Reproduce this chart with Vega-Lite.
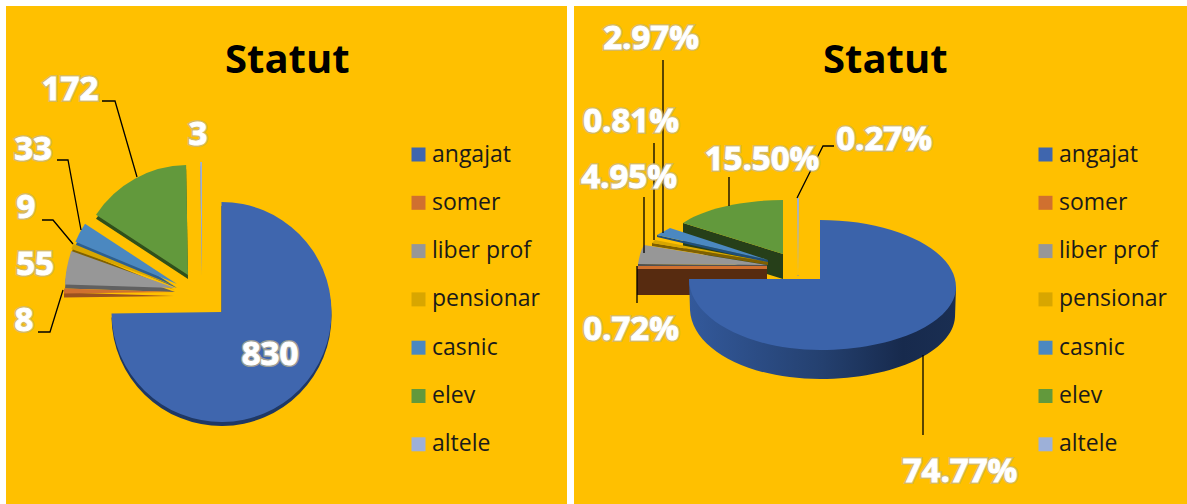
{"$schema":"https://vega.github.io/schema/vega-lite/v6.json","background":"white","padding":{"left":6,"top":6,"right":0,"bottom":0},"spacing":7,"resolve":{"scale":{"color":"independent","shape":"independent","x":"independent","y":"independent"}},"datasets":{"pieA":[{"i":1,"statut":"angajat","n":830,"cx":221.5,"cy":312,"lx":270,"ly":355,"eticheta":"830"},{"i":2,"statut":"somer","n":8,"cx":174,"cy":292,"lx":24,"ly":321,"eticheta":"8"},{"i":3,"statut":"liber prof","n":55,"cx":175,"cy":288,"lx":35,"ly":265,"eticheta":"55"},{"i":4,"statut":"pensionar","n":9,"cx":175,"cy":286,"lx":26,"ly":208,"eticheta":"9"},{"i":5,"statut":"casnic","n":33,"cx":177,"cy":284,"lx":33,"ly":150,"eticheta":"33"},{"i":6,"statut":"elev","n":172,"cx":188,"cy":275,"lx":70,"ly":90,"eticheta":"172"},{"i":7,"statut":"altele","n":3,"cx":202,"cy":272,"lx":198,"ly":135,"eticheta":"3"}],"pieB":[{"i":6,"statut":"elev","n":172,"cx":783,"cy":254,"lx":762,"ly":160,"eticheta":"15.50%"},{"i":7,"statut":"altele","n":3,"cx":798,"cy":275,"lx":884,"ly":140,"eticheta":"0.27%"},{"i":5,"statut":"casnic","n":33,"cx":768,"cy":260,"lx":651,"ly":39,"eticheta":"2.97%"},{"i":4,"statut":"pensionar","n":9,"cx":768,"cy":262,"lx":631,"ly":122,"eticheta":"0.81%"},{"i":3,"statut":"liber prof","n":55,"cx":767,"cy":265,"lx":629,"ly":178,"eticheta":"4.95%"},{"i":2,"statut":"somer","n":8,"cx":767,"cy":267,"lx":631,"ly":330,"eticheta":"0.72%"},{"i":1,"statut":"angajat","n":830,"cx":820,"cy":279,"lx":960,"ly":472,"eticheta":"74.77%"}],"leadA":[{"id":"172","o":1,"x":102,"y":101},{"id":"172","o":2,"x":115,"y":101},{"id":"172","o":3,"x":137,"y":177},{"id":"33","o":1,"x":57,"y":160},{"id":"33","o":2,"x":68,"y":160},{"id":"33","o":3,"x":81,"y":230},{"id":"9","o":1,"x":42,"y":220},{"id":"9","o":2,"x":53,"y":220},{"id":"9","o":3,"x":73,"y":244},{"id":"8","o":1,"x":38,"y":332},{"id":"8","o":2,"x":50,"y":332},{"id":"8","o":3,"x":63,"y":290}],"leadB":[{"id":"a","o":1,"x":663,"y":60},{"id":"a","o":2,"x":663,"y":233},{"id":"b","o":1,"x":654,"y":143},{"id":"b","o":2,"x":654,"y":240},{"id":"c","o":1,"x":644,"y":197},{"id":"c","o":2,"x":644,"y":253},{"id":"d","o":1,"x":729,"y":177},{"id":"d","o":2,"x":729,"y":206},{"id":"e","o":1,"x":834,"y":146},{"id":"e","o":2,"x":823,"y":146},{"id":"e","o":3,"x":797,"y":198},{"id":"f","o":1,"x":637,"y":266},{"id":"f","o":2,"x":637,"y":303},{"id":"g","o":1,"x":923,"y":355},{"id":"g","o":2,"x":923,"y":435}]},"hconcat":[{"width":561,"height":498,"view":{"fill":"#FFC000","stroke":null},"title":{"text":"Statut","frame":"group","anchor":"start","orient":"top","offset":-75,"dx":219,"font":"Open Sans","fontSize":40,"fontWeight":"bold","color":"#000000"},"resolve":{"scale":{"color":"independent"}},"layer":[{"data":{"name":"pieA"},"mark":{"type":"arc","outerRadius":110,"yOffset":4},"encoding":{"theta":{"field":"n","type":"quantitative","stack":true},"order":{"field":"i","type":"quantitative"},"x":{"field":"cx","type":"quantitative","scale":{"domain":[6,567],"nice":false,"zero":false},"axis":null},"y":{"field":"cy","type":"quantitative","scale":{"domain":[504,6],"nice":false,"zero":false},"axis":null},"color":{"field":"statut","type":"nominal","legend":null,"scale":{"domain":["angajat","somer","liber prof","pensionar","casnic","elev","altele"],"range":["#1F3864","#9A5220","#606060","#7F6000","#2E5F8E","#2F4F1B","#7C8CB0"]}}}},{"data":{"name":"pieA"},"mark":{"type":"arc","outerRadius":110},"encoding":{"theta":{"field":"n","type":"quantitative","stack":true},"order":{"field":"i","type":"quantitative"},"x":{"field":"cx","type":"quantitative"},"y":{"field":"cy","type":"quantitative"},"color":{"field":"statut","type":"nominal","scale":{"domain":["angajat","somer","liber prof","pensionar","casnic","elev","altele"],"range":["#3F66AE","#D0702F","#979797","#D8A600","#4B88C0","#62993C","#9DB0D8"]},"legend":{"orient":"none","legendX":401,"legendY":137,"title":null,"symbolType":"square","symbolSize":196,"symbolStrokeWidth":0,"symbolOpacity":1,"labelFont":"Open Sans","labelFontSize":23,"labelColor":"#1A1A1A","labelOffset":2,"rowPadding":24.3,"padding":0}}}},{"data":{"name":"leadA"},"mark":{"type":"line","color":"#000000","strokeWidth":1.3},"encoding":{"x":{"field":"x","type":"quantitative"},"y":{"field":"y","type":"quantitative"},"detail":{"field":"id"},"order":{"field":"o","type":"quantitative"}}},{"data":{"name":"pieA"},"mark":{"type":"text","font":"Open Sans","fontSize":33,"fontWeight":"bold","stroke":"#C4B68C","strokeWidth":4,"strokeOpacity":0.7,"baseline":"middle"},"encoding":{"x":{"field":"lx","type":"quantitative"},"y":{"field":"ly","type":"quantitative"},"text":{"field":"eticheta"}}},{"data":{"name":"pieA"},"mark":{"type":"text","font":"Open Sans","fontSize":33,"fontWeight":"bold","color":"#FFFFFF","stroke":"#FFFFFF","strokeWidth":1,"baseline":"middle"},"encoding":{"x":{"field":"lx","type":"quantitative"},"y":{"field":"ly","type":"quantitative"},"text":{"field":"eticheta"}}}]},{"width":613,"height":498,"view":{"fill":"#FFC000","stroke":null},"title":{"text":"Statut","frame":"group","anchor":"start","orient":"top","offset":-75,"dx":249,"font":"Open Sans","fontSize":40,"fontWeight":"bold","color":"#000000"},"resolve":{"scale":{"color":"independent","shape":"independent"}},"layer":[{"data":{"name":"pieB"},"mark":{"type":"square","size":0,"opacity":1},"encoding":{"x":{"field":"cx","type":"quantitative","scale":{"domain":[574,1187],"nice":false,"zero":false},"axis":null},"y":{"field":"cy","type":"quantitative","scale":{"domain":[504,6],"nice":false,"zero":false},"axis":null},"color":{"field":"statut","type":"nominal","scale":{"domain":["angajat","somer","liber prof","pensionar","casnic","elev","altele"],"range":["#3F66AE","#D0702F","#979797","#D8A600","#4B88C0","#62993C","#9DB0D8"]},"legend":{"orient":"none","legendX":460,"legendY":137,"title":null,"symbolType":"square","symbolSize":196,"symbolStrokeWidth":0,"symbolOpacity":1,"labelFont":"Open Sans","labelFontSize":23,"labelColor":"#1A1A1A","labelOffset":2,"rowPadding":24.3,"padding":0}}}},{"data":{"name":"pieB"},"transform":[{"filter":"datum.statut !== 'angajat'"}],"mark":{"type":"point","filled":true,"size":4,"opacity":1},"encoding":{"x":{"field":"cx","type":"quantitative"},"y":{"field":"cy","type":"quantitative"},"shape":{"field":"statut","type":"nominal","legend":null,"scale":{"domain":["somer","liber prof","pensionar","casnic","elev","altele"],"range":["M-130,1L-130,28L0,28L0,1Z","M-129,-1L-129,3L0,3L0,0Z","M-116,-19L-116,-16L0,3L0,0Z","M-111,-25L-111,-23L0,3L0,0Z","M-100,-31L-100,-6L0,25L0,0Z","M-1,0L1,0L0,1Z"]}},"color":{"field":"statut","type":"nominal","legend":null,"scale":{"domain":["somer","liber prof","pensionar","casnic","elev","altele"],"range":["#572B10","#505050","#7F6000","#1F4E79","#263F19","#8090B0"]}}}},{"data":{"name":"pieB"},"transform":[{"filter":"datum.statut === 'angajat'"}],"mark":{"type":"point","filled":true,"size":4,"opacity":1,"shape":"M-131,0L-130,31C-128,70 -72,100 0,100C75,100 133,72 135,38L136,8L0,8Z","fill":{"gradient":"linear","x1":0,"x2":1,"y1":0,"y2":0,"stops":[{"offset":0,"color":"#33599B"},{"offset":0.5,"color":"#24406F"},{"offset":0.8,"color":"#172A4D"},{"offset":1,"color":"#1A2E52"}]}},"encoding":{"x":{"field":"cx","type":"quantitative"},"y":{"field":"cy","type":"quantitative"}}},{"data":{"name":"pieB"},"mark":{"type":"point","filled":true,"size":4,"opacity":1},"encoding":{"x":{"field":"cx","type":"quantitative"},"y":{"field":"cy","type":"quantitative"},"shape":{"field":"statut","type":"nominal","legend":null,"scale":{"domain":["angajat","somer","liber prof","pensionar","casnic","elev","altele"],"range":["M0,0L0,-59C75,-59 136,-29 136,8C136,43 75,71 0,71C-72,71 -131,39 -131,0Z","M0,-1L-130,-1L-130,2L0,2Z","M0,0L-129,-1C-128,-8 -126,-15 -123,-20Z","M0,0L-116,-19L-113,-22Z","M0,0L-111,-25C-107,-27 -102,-30 -98,-32Z","M0,0L-100,-31C-80,-45 -40,-54 0,-54Z","M-1,-77L1,-77L0,0Z"]}},"color":{"field":"statut","type":"nominal","legend":null,"scale":{"domain":["angajat","somer","liber prof","pensionar","casnic","elev","altele"],"range":["#3B63AA","#D0702F","#979797","#D8A600","#4B88C0","#62993C","#9DB0D8"]}}}},{"data":{"name":"leadB"},"mark":{"type":"line","color":"#000000","strokeWidth":1.3},"encoding":{"x":{"field":"x","type":"quantitative"},"y":{"field":"y","type":"quantitative"},"detail":{"field":"id"},"order":{"field":"o","type":"quantitative"}}},{"data":{"name":"pieB"},"mark":{"type":"text","font":"Open Sans","fontSize":33,"fontWeight":"bold","stroke":"#C4B68C","strokeWidth":4,"strokeOpacity":0.7,"baseline":"middle"},"encoding":{"x":{"field":"lx","type":"quantitative"},"y":{"field":"ly","type":"quantitative"},"text":{"field":"eticheta"}}},{"data":{"name":"pieB"},"mark":{"type":"text","font":"Open Sans","fontSize":33,"fontWeight":"bold","color":"#FFFFFF","stroke":"#FFFFFF","strokeWidth":1,"baseline":"middle"},"encoding":{"x":{"field":"lx","type":"quantitative"},"y":{"field":"ly","type":"quantitative"},"text":{"field":"eticheta"}}}]}]}
